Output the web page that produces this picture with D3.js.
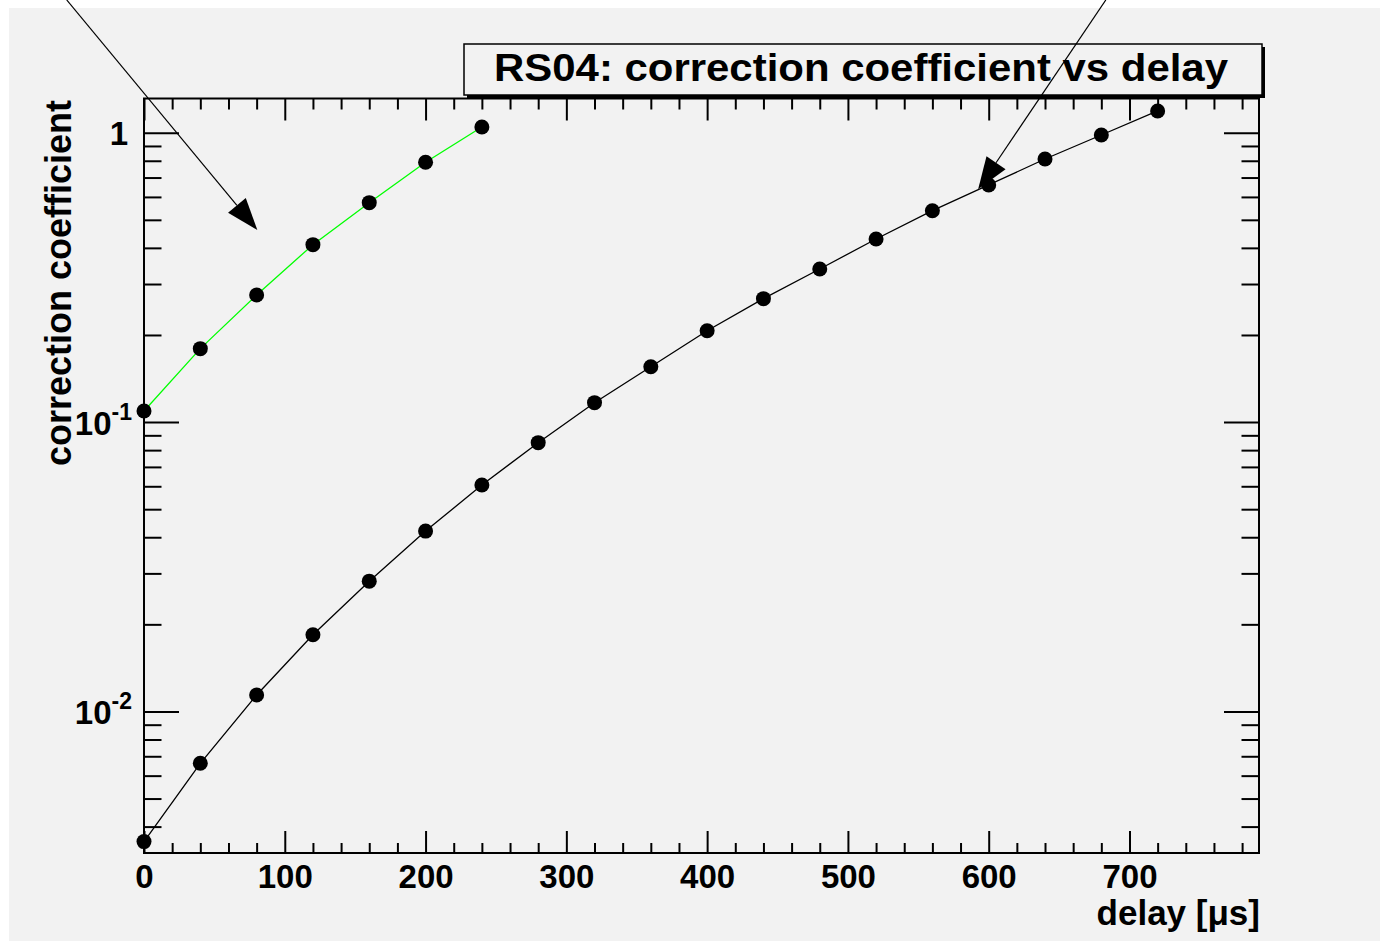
<!DOCTYPE html>
<html>
<head>
<meta charset="utf-8">
<script src="https://cdn.jsdelivr.net/npm/d3@7"></script>
<style>
  html, body { margin: 0; padding: 0; background: #ffffff; }
  svg { display: block; }
  text { font-family: "Liberation Sans", Arial, Helvetica, sans-serif; font-weight: bold; fill: #000; }
</style>
</head>
<body>
<svg id="chart" width="1380" height="942"></svg>
<script>
// Delay values (µs) and correction coefficients for the two curves
const delaysMain = [0, 40, 80, 120, 160, 200, 240, 280, 320, 360, 400, 440, 480, 520, 560, 600, 640, 680, 720];
const coeffMain  = [0.00355, 0.00662, 0.0114, 0.0184, 0.0282, 0.0420, 0.0606, 0.0849, 0.1167, 0.1554,
                    0.2069, 0.2670, 0.3381, 0.4293, 0.5377, 0.6600, 0.8115, 0.9822, 1.189];
const delaysShort = [0, 40, 80, 120, 160, 200, 240];
const coeffShort  = [0.1092, 0.1794, 0.2750, 0.4103, 0.5732, 0.7902, 1.047];

// Axis ticks and labels
const xMajorTicks = [0, 100, 200, 300, 400, 500, 600, 700];
const xTickLabels = ["0", "100", "200", "300", "400", "500", "600", "700"];
const yMajorTicks = [0.01, 0.1, 1];
const yLabelBase  = ["10", "10", "1"];
const yLabelExp   = ["-2", "-1", ""];

// Annotation arrows, in data coordinates: [x0, y0] -> [x1, y1]
const arrowFrom = [[-54.9, 2.876], [683.2, 2.876]];
const arrowTo   = [[80.5, 0.461], [592.5, 0.6376]];

const titleText  = "RS04: correction coefficient vs delay";
const xTitleText = "delay [\u03bcs]";
const yTitleText = "correction coefficient";

const W = 1380, H = 942;
const frame = { left: 144, right: 1259, top: 98.5, bottom: 853 };
const bg = "#f2f2f2";

const svg = d3.select("#chart");

// canvas background
svg.append("rect").attr("x", 0).attr("y", 0).attr("width", W).attr("height", H).attr("fill", "#ffffff");
svg.append("rect").attr("x", 9).attr("y", 8).attr("width", W - 9).attr("height", H - 9).attr("fill", bg);

const x = d3.scaleLinear().domain([0, 792]).range([frame.left, frame.right]);
const y = d3.scaleLog().domain([0.003242, 1.313]).range([frame.bottom, frame.top]);

// minor tick positions
const xMinorTicks = d3.range(0, 792, 20).filter(v => v % 100 !== 0);
const yMinorTicks = [];
[0.001, 0.01, 0.1, 1].forEach(d => {
  for (let k = 2; k <= 9; k++) {
    const v = k * d;
    if (v >= y.domain()[0] && v <= y.domain()[1]) yMinorTicks.push(v);
  }
});

// data curves
const line = d3.line().x(d => x(d[0])).y(d => y(d[1]));
const mainPts  = delaysMain.map((d, i) => [d, coeffMain[i]]);
const shortPts = delaysShort.map((d, i) => [d, coeffShort[i]]);

svg.append("path").datum(mainPts).attr("d", line)
  .attr("fill", "none").attr("stroke", "#000").attr("stroke-width", 1.3);
svg.append("path").datum(shortPts).attr("d", line)
  .attr("fill", "none").attr("stroke", "#00ff00").attr("stroke-width", 1.3);

svg.append("g").selectAll("circle").data(mainPts.concat(shortPts)).join("circle")
  .attr("cx", d => x(d[0])).attr("cy", d => y(d[1])).attr("r", 7.5).attr("fill", "#000");

// axes: ticks on all four sides pointing inward
function tickAxis(axis, values, size, tx, ty) {
  const g = svg.append("g").attr("transform", `translate(${tx},${ty})`)
    .call(axis.tickValues(values).tickSize(size).tickFormat(""));
  g.select(".domain").remove();
  g.selectAll(".tick line").attr("stroke", "#000").attr("stroke-width", 2);
  return g;
}
tickAxis(d3.axisBottom(x), xMajorTicks, -22, 0, frame.bottom);
tickAxis(d3.axisBottom(x), xMinorTicks, -10, 0, frame.bottom);
tickAxis(d3.axisTop(x), xMajorTicks, -22, 0, frame.top);
tickAxis(d3.axisTop(x), xMinorTicks, -11, 0, frame.top);
tickAxis(d3.axisLeft(y), yMajorTicks, -35, frame.left, 0);
tickAxis(d3.axisLeft(y), yMinorTicks, -17.5, frame.left, 0);
tickAxis(d3.axisRight(y), yMajorTicks, -35, frame.right, 0);
tickAxis(d3.axisRight(y), yMinorTicks, -17.5, frame.right, 0);

// frame border
svg.append("rect")
  .attr("x", frame.left).attr("y", frame.top)
  .attr("width", frame.right - frame.left).attr("height", frame.bottom - frame.top)
  .attr("fill", "none").attr("stroke", "#000").attr("stroke-width", 2);

// x tick labels
const xLab = svg.append("g").attr("transform", `translate(0,${frame.bottom})`)
  .call(d3.axisBottom(x).tickValues(xMajorTicks).tickSize(0)
    .tickFormat((d, i) => xTickLabels[i]));
xLab.select(".domain").remove();
xLab.selectAll("text").attr("y", 35).attr("dy", null)
  .style("font-size", "33px").attr("fill", "#000");

// y tick labels with superscript exponents
const yLab = svg.append("g").attr("transform", `translate(${frame.left},0)`)
  .call(d3.axisLeft(y).tickValues(yMajorTicks).tickSize(0).tickFormat(""));
yLab.select(".domain").remove();
yLab.selectAll(".tick text").each(function(d, i) {
  const t = d3.select(this).attr("x", i === 2 ? -16 : -12).attr("y", 12).attr("dy", null)
    .style("font-size", "33px").attr("text-anchor", "end").text(null);
  t.append("tspan").text(yLabelBase[i]);
  if (yLabelExp[i]) {
    t.append("tspan").attr("dy", -15).style("font-size", "23px").text(yLabelExp[i]);
  }
});

// axis titles
svg.append("text").attr("x", frame.right + 1).attr("y", 925)
  .attr("text-anchor", "end").style("font-size", "35px").text(xTitleText);
svg.append("text").attr("transform", `translate(71,${frame.top + 1.5}) rotate(-90)`)
  .attr("text-anchor", "end").style("font-size", "36px").text(yTitleText);

// title box with shadow
const tb = { x: 464, y: 44, w: 798, h: 51 };
svg.append("rect").attr("x", tb.x + 3).attr("y", tb.y + 3).attr("width", tb.w).attr("height", tb.h).attr("fill", "#000");
svg.append("rect").attr("x", tb.x).attr("y", tb.y).attr("width", tb.w).attr("height", tb.h)
  .attr("fill", bg).attr("stroke", "#000").attr("stroke-width", 1.5);
svg.append("text").attr("x", 861).attr("y", 81).attr("text-anchor", "middle")
  .attr("textLength", 734).attr("lengthAdjust", "spacingAndGlyphs")
  .style("font-size", "38px").text(titleText);

// arrows with filled heads
const headLen = 32, headHalf = 11.5;
arrowFrom.forEach((from, i) => {
  const x0 = x(from[0]), y0 = y(from[1]);
  const x1 = x(arrowTo[i][0]), y1 = y(arrowTo[i][1]);
  const dx = x1 - x0, dy = y1 - y0, len = Math.hypot(dx, dy);
  const ux = dx / len, uy = dy / len;
  const bx = x1 - ux * headLen, by = y1 - uy * headLen;
  svg.append("line").attr("x1", x0).attr("y1", y0).attr("x2", bx).attr("y2", by)
    .attr("stroke", "#000").attr("stroke-width", 1.2);
  svg.append("path")
    .attr("d", `M${x1},${y1}L${bx - uy * headHalf},${by + ux * headHalf}L${bx + uy * headHalf},${by - ux * headHalf}Z`)
    .attr("fill", "#000");
});
</script>
</body>
</html>
